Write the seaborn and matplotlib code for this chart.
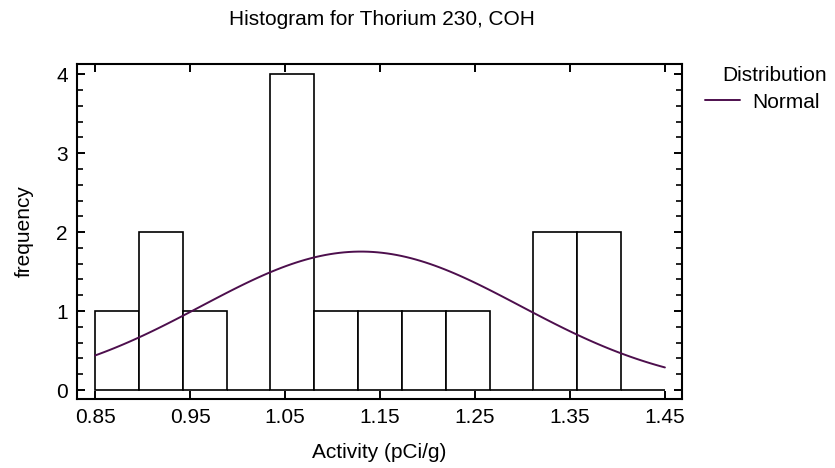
import numpy as np
import pandas as pd
import matplotlib
matplotlib.use("Agg")
import matplotlib.pyplot as plt
import seaborn as sns
from matplotlib.ticker import MultipleLocator
from matplotlib.lines import Line2D

# ---- data ----
bin_low, bin_high, n_bins = 0.85, 1.45, 13
counts = [1, 2, 1, 0, 4, 1, 1, 1, 1, 0, 2, 2, 0]
fit_mean = 1.13
fit_sd = 0.168
x_ticks = [0.85, 0.95, 1.05, 1.15, 1.25, 1.35, 1.45]
y_ticks = [0, 1, 2, 3, 4]

title = "Histogram for Thorium 230, COH"
x_label = "Activity (pCi/g)"
y_label = "frequency"
legend_title = "Distribution"
legend_label = "Normal"
curve_color = "#4d0f4d"

sns.set_theme(style="ticks")
plt.rcParams["font.family"] = ["Liberation Sans", "DejaVu Sans"]
plt.rcParams.update({"text.color": "black", "axes.labelcolor": "black",
                     "xtick.color": "black", "ytick.color": "black"})
FS = 15

edges = np.linspace(bin_low, bin_high, n_bins + 1)
centers = (edges[:-1] + edges[1:]) / 2
df = pd.DataFrame({"x": centers, "w": counts})

width = edges[1] - edges[0]
n_total = sum(counts)
xs = np.linspace(bin_low, bin_high, 120)
ys = n_total * width / (fit_sd * np.sqrt(2 * np.pi)) * np.exp(-0.5 * ((xs - fit_mean) / fit_sd) ** 2)
curve = pd.DataFrame({"x": xs, "y": ys})

W, H = 835, 468
fig = plt.figure(figsize=(W / 100, H / 100), dpi=100)
ax = fig.add_axes([77 / W, 1 - 399 / H, (682 - 77) / W, (399 - 64) / H])

sns.histplot(data=df, x="x", weights="w", bins=edges.tolist(), ax=ax,
             color="white", edgecolor="black", linewidth=1.2, alpha=1)
sns.lineplot(data=curve, x="x", y="y", ax=ax, color=curve_color, lw=1.4)

ax.set_xlim(0.831, 1.468)
ax.set_ylim(-0.114, 4.13)
ax.set_xticks(x_ticks)
ax.set_xticklabels([f"{t:.2f}" for t in x_ticks])
ax.set_yticks(y_ticks)
ax.yaxis.set_minor_locator(MultipleLocator(0.2))
ax.tick_params(axis="both", which="both", direction="in", top=True, right=True,
               labelsize=FS, color="black", width=1.4)
ax.tick_params(axis="both", which="major", length=6, pad=6.5)
ax.tick_params(axis="y", which="minor", length=4.5, width=1.2)
for s in ax.spines.values():
    s.set_linewidth(1.5)
    s.set_color("black")

ax.set_xlabel("")
ax.set_ylabel("")
fig.text(379.5 / W, 1 - 458 / H, x_label, ha="center", va="baseline", fontsize=FS)
fig.text(24 / W, 1 - 231.5 / H, y_label, ha="center", va="center",
         rotation=90, fontsize=FS)
fig.text(382 / W, 1 - 25 / H, title, ha="center", va="baseline", fontsize=FS)
fig.text(722 / W, 1 - 81 / H, legend_title, ha="left", va="baseline", fontsize=FS)

handle = Line2D([0], [0], color=curve_color, lw=1.4)
ax.legend([handle], [legend_label], loc="center left",
          bbox_to_anchor=(705 / W, 1 - 102 / H), bbox_transform=fig.transFigure,
          frameon=False, fontsize=FS, handlelength=1.67, borderpad=0,
          borderaxespad=0.0, handletextpad=0.62)

fig.savefig("out.png", dpi=100)
